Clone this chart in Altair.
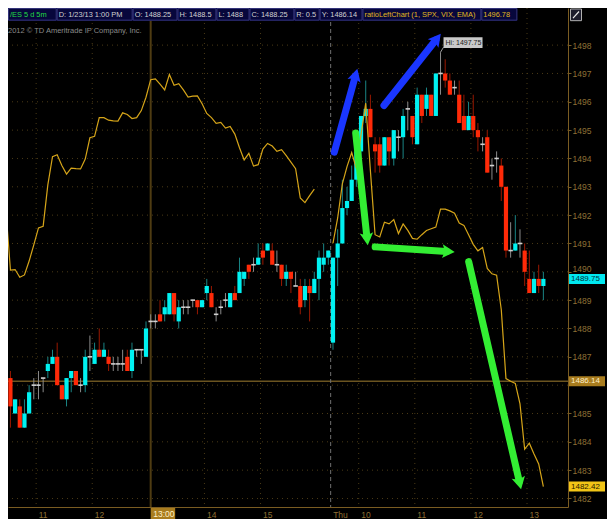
import math
import altair as alt
import pandas as pd

# ---------------- data ----------------
# 5-minute /ES bars, index 0 = 10:30 Wed, index 69 = 9:30 Thu
bar_open = [
    1486.25, 1485.0, 1485.25, 1484.5, 1485.0, 1486.0, 1486.0, 1486.25, 1486.5, 1486.75,
    1487.0, 1486.0, 1485.5, 1486.25, 1486.5, 1486.0, 1486.0, 1487.0, 1486.75, 1487.25,
    1487.0, 1487.0, 1486.75, 1486.75, 1486.75, 1487.0, 1486.5, 1487.25, 1487.25, 1487.0,
    1488.25, 1488.25, 1488.5, 1488.5, 1488.5, 1489.25, 1488.25, 1488.75, 1488.75, 1489.0,
    1489.0, 1488.75, 1489.25, 1489.25, 1488.5, 1488.75, 1489.0, 1488.75, 1489.25, 1489.25,
    1489.75, 1490.25, 1490.25, 1490.25, 1490.75, 1490.75, 1490.75, 1490.25, 1490.25, 1489.75,
    1490.0, 1489.5, 1489.5, 1489.0, 1489.5, 1489.25, 1489.75, 1490.25, 1490.5, 1487.5,
    1490.5, 1491.0, 1492.25, 1492.5, 1493.25, 1494.25, 1495.5, 1495.75, 1494.5, 1494.5,
    1493.75, 1494.75, 1494.0, 1494.75, 1494.75, 1495.75, 1495.5, 1494.5, 1496.25, 1495.75,
    1496.25, 1495.5, 1497.0, 1497.0, 1496.75, 1496.5, 1496.25, 1495.5, 1495.0, 1495.5,
    1495.0, 1494.5, 1494.75, 1493.75, 1494.0, 1493.75, 1493.0, 1490.75, 1490.75, 1491.0,
    1490.75, 1489.75, 1489.25, 1489.75, 1489.5,
]
bar_high = [
    1486.5, 1485.5, 1485.5, 1485.5, 1486.0, 1486.25, 1486.5, 1486.25, 1487.0, 1487.25,
    1487.5, 1486.0, 1486.25, 1486.5, 1486.5, 1486.25, 1487.25, 1487.75, 1487.5, 1488.0,
    1487.5, 1487.25, 1487.0, 1487.0, 1487.25, 1487.25, 1487.5, 1487.25, 1487.25, 1488.25,
    1488.5, 1488.5, 1489.0, 1489.0, 1489.25, 1489.25, 1489.0, 1489.0, 1489.0, 1489.0,
    1489.0, 1489.0, 1489.75, 1489.5, 1488.75, 1489.0, 1489.25, 1489.25, 1489.5, 1490.5,
    1490.0, 1490.25, 1490.5, 1491.0, 1491.0, 1491.0, 1491.0, 1490.75, 1490.25, 1490.25,
    1490.0, 1490.0, 1489.75, 1489.75, 1489.75, 1490.0, 1490.75, 1491.0, 1490.75, 1490.5,
    1491.5, 1493.25, 1493.0, 1493.75, 1494.25, 1495.5, 1496.75, 1496.25, 1494.75, 1494.75,
    1494.75, 1494.75, 1495.0, 1495.0, 1495.75, 1496.0, 1495.5, 1496.5, 1496.25, 1496.5,
    1496.25, 1497.0, 1497.75, 1497.5, 1497.0, 1496.75, 1496.75, 1496.25, 1496.0, 1496.25,
    1495.25, 1494.75, 1495.0, 1494.0, 1494.25, 1494.0, 1493.0, 1491.75, 1492.0, 1491.5,
    1491.0, 1490.75, 1490.0, 1490.25, 1490.0,
]
bar_low = [
    1484.5, 1485.0, 1484.5, 1484.5, 1485.0, 1485.5, 1485.5, 1485.75, 1486.25, 1486.75,
    1486.0, 1485.5, 1485.25, 1485.75, 1486.0, 1485.75, 1485.75, 1486.5, 1486.75, 1487.0,
    1487.0, 1486.5, 1486.5, 1486.5, 1486.5, 1486.5, 1486.25, 1487.0, 1486.75, 1487.0,
    1488.0, 1488.0, 1488.25, 1488.25, 1488.5, 1488.25, 1488.0, 1488.5, 1488.5, 1488.75,
    1488.5, 1488.75, 1489.0, 1488.75, 1488.25, 1488.5, 1488.75, 1488.75, 1489.0, 1489.25,
    1489.5, 1489.75, 1490.0, 1490.25, 1490.25, 1490.75, 1490.25, 1490.0, 1489.5, 1489.5,
    1489.25, 1489.5, 1488.5, 1488.75, 1488.25, 1489.25, 1489.0, 1490.0, 1490.25, 1487.25,
    1489.5, 1491.0, 1492.0, 1492.5, 1493.0, 1494.0, 1495.25, 1494.75, 1493.5, 1493.5,
    1493.75, 1493.75, 1493.75, 1494.25, 1494.0, 1495.0, 1494.5, 1494.5, 1495.25, 1495.5,
    1495.5, 1495.5, 1496.25, 1496.5, 1496.25, 1496.25, 1495.25, 1495.0, 1495.0, 1494.75,
    1494.25, 1494.25, 1493.5, 1493.25, 1493.5, 1492.5, 1490.5, 1490.5, 1490.75, 1490.5,
    1489.5, 1489.25, 1489.25, 1489.25, 1489.0,
]
bar_close = [
    1485.25, 1485.5, 1484.5, 1485.0, 1485.75, 1486.0, 1486.0, 1486.25, 1486.75, 1487.0,
    1486.0, 1485.5, 1486.25, 1486.5, 1486.0, 1486.0, 1487.0, 1487.0, 1487.25, 1487.0,
    1487.25, 1486.75, 1486.75, 1486.75, 1486.75, 1486.5, 1487.25, 1487.25, 1487.25, 1488.0,
    1488.25, 1488.25, 1488.25, 1488.75, 1489.25, 1488.5, 1488.75, 1488.75, 1488.75, 1489.0,
    1488.75, 1489.0, 1489.5, 1488.75, 1488.5, 1488.75, 1489.0, 1489.25, 1489.0, 1490.0,
    1490.0, 1490.0, 1490.25, 1490.5, 1490.5, 1491.0, 1490.25, 1490.25, 1489.75, 1490.0,
    1489.75, 1489.5, 1488.75, 1489.5, 1489.25, 1489.75, 1490.5, 1490.5, 1490.75, 1490.5,
    1491.0, 1492.25, 1492.5, 1493.25, 1494.25, 1495.5, 1495.75, 1494.75, 1494.25, 1493.75,
    1494.75, 1494.25, 1495.0, 1494.75, 1495.5, 1495.75, 1494.75, 1496.25, 1495.5, 1496.25,
    1495.5, 1497.0, 1497.0, 1496.75, 1496.25, 1496.5, 1495.25, 1495.0, 1495.5, 1495.0,
    1494.75, 1494.5, 1493.5, 1493.75, 1494.0, 1493.0, 1490.75, 1490.75, 1491.0, 1491.0,
    1490.0, 1489.25, 1489.75, 1489.5, 1489.75,
]

# ratioLeftChart (1, SPX, VIX, EMA) study, in price units
ratio_wed_start = -1
ratio_wed = [
    1492.25, 1490.06, 1490.08, 1489.81, 1489.89, 1490.38, 1490.95, 1491.55, 1491.61, 1493.07,
    1494.06, 1494.13, 1493.75, 1493.45, 1493.66, 1493.64, 1493.63, 1493.98, 1494.73, 1494.78,
    1495.44, 1495.44, 1495.35, 1495.33, 1495.32, 1495.61, 1495.55, 1495.41, 1495.44, 1495.69,
    1496.16, 1496.78, 1496.81, 1496.62, 1496.42, 1496.96, 1496.58, 1496.64, 1496.42, 1496.17,
    1496.20, 1496.21, 1495.93, 1495.59, 1495.44, 1495.24, 1495.27, 1495.07, 1495.13, 1494.86,
    1494.38, 1493.95, 1494.18, 1493.73, 1493.78, 1494.33, 1494.53, 1494.44, 1494.25, 1494.31,
    1494.10, 1493.87, 1493.64, 1492.61, 1492.44, 1492.69, 1492.92,
]
ratio_thu_start = 69
ratio_thu = [
    1491.01, 1491.90, 1493.10, 1493.71, 1494.21, 1493.64, 1494.84, 1495.95, 1493.57, 1491.31,
    1491.23, 1491.75, 1491.69, 1491.84, 1491.35, 1491.69, 1491.46, 1491.18, 1491.15, 1491.31,
    1491.46, 1491.52, 1491.58, 1492.21, 1492.21, 1492.15, 1492.07, 1491.72, 1491.64, 1491.31,
    1490.97, 1490.74, 1490.86, 1490.12, 1489.93, 1489.88, 1488.66, 1486.23, 1486.14, 1486.06,
    1485.34, 1483.74, 1483.95, 1483.57, 1483.22, 1482.42,
]

# time axis
tick_pos = [5.5, 17.5, 41.5, 53.5, 68.5, 74.5, 86.5, 98.5, 110.5]
tick_labels = ["11", "12", "14", "15", "Thu", "10", "11", "12", "13"]
session_break = 68.5
cursor_bar = 30
cursor_label = "13:00"
price_ticks = list(range(1482, 1499))
prev_close = 1486.14

# hand-drawn annotation arrows (bar index, price)
arrow_kind = ["blue", "blue", "green", "green", "green"]
arrow_x0 = [69.27, 79.90, 73.85, 78.02, 98.02]
arrow_y0 = [1494.22, 1495.87, 1494.90, 1490.88, 1490.36]
arrow_x1 = [73.75, 91.00, 76.25, 93.33, 108.85]
arrow_y1 = [1496.89, 1498.18, 1491.22, 1490.72, 1482.60]

header_texts = ["/ES 5 d 5m", "D: 1/23/13 1:00 PM", "O: 1488.25", "H: 1488.5", "L: 1488",
                "C: 1488.25", "R: 0.5", "Y: 1486.14", "ratioLeftChart (1, SPX, VIX, EMA)", "1496.78"]
copyright_text = "2012 \u00a9 TD Ameritrade IP Company, Inc."

# ---------------- layout / style ----------------
W, H = 560, 499
PAD_R, PAD_B = 39, 12
S = W / 575.0
X_DOMAIN = [-0.52, 119.27]
Y_DOMAIN = [1481.70, 1499.31]
FONT = "Liberation Sans"

BG = "#000000"
GRID = "#4a3a16"
AXIS = "#7a5c22"
LABEL = "#8f7035"
UP_BODY, UP_WICK = "#00F2F2", "#1a8585"
DN_BODY, DN_WICK = "#FF2A08", "#9a1800"
FLAT_BODY, FLAT_WICK = "#d0d0d0", "#8a8a8a"
RATIO = "#D6A519"
ARROW_COL = {"blue": "#1a36ff", "green": "#33ee33"}

xs = alt.Scale(domain=X_DOMAIN, nice=False, zero=False)
ys = alt.Scale(domain=Y_DOMAIN, nice=False, zero=False)
label_map = "{" + ",".join(f"'{p}':'{t}'" for p, t in zip(tick_pos, tick_labels)) + "}"
x_axis = alt.Axis(orient="bottom", values=tick_pos, labelExpr=f"{label_map}[datum.value]",
                  title=None, grid=False, ticks=False, labelAlign="left", labelOffset=2,
                  labelPadding=3, labelOverlap=False, labelFlush=False,
                  domainColor=AXIS, labelColor=LABEL, labelFont=FONT, labelFontSize=8.5)
# the price label right under the previous-close badge is covered in the original;
# the one just above the last-price badge is nudged up a little
hidden_label = round(prev_close)
nudged_label = math.ceil(bar_close[-1])
y_axis = alt.Axis(orient="right", values=price_ticks, format="d", title=None, grid=False,
                  labelExpr=f"datum.value == {hidden_label} ? '' : datum.label",
                  labelOffset={"condition": {"test": f"datum.value == {nudged_label}",
                                             "value": -3}, "value": 0},
                  tickSize=3, tickColor=AXIS, labelPadding=1, labelOverlap=False,
                  labelFlush=False, domainColor=AXIS, labelColor=LABEL, labelFont=FONT,
                  labelFontSize=8.5)


def X(f):
    return alt.X(f"{f}:Q", scale=xs, axis=x_axis)


def Y(f):
    return alt.Y(f"{f}:Q", scale=ys, axis=y_axis)


n = len(bar_open)
candles = pd.DataFrame({"idx": list(range(n)), "o": bar_open, "h": bar_high,
                        "l": bar_low, "c": bar_close})
candles["kind"] = ["up" if c > o else ("down" if c < o else "flat")
                   for o, c in zip(bar_open, bar_close)]

ratio = pd.DataFrame({
    "idx": list(range(ratio_wed_start, ratio_wed_start + len(ratio_wed)))
    + list(range(ratio_thu_start, ratio_thu_start + len(ratio_thu))),
    "val": ratio_wed + ratio_thu,
    "sess": ["wed"] * len(ratio_wed) + ["thu"] * len(ratio_thu),
})

sx = W / (X_DOMAIN[1] - X_DOMAIN[0])
sy = H / (Y_DOMAIN[1] - Y_DOMAIN[0])
arrows = pd.DataFrame({"kind": arrow_kind, "x0": arrow_x0, "y0": arrow_y0,
                       "x1": arrow_x1, "y1": arrow_y1})
arrows["angle"] = [math.degrees(math.atan2((b - a) * sx, (d - c) * sy)) % 360
                   for a, b, c, d in zip(arrow_x0, arrow_x1, arrow_y0, arrow_y1)]

one = pd.DataFrame({"k": [0]})
layers = []

# grid
vg = pd.DataFrame({"pos": [p for p in tick_pos if p != session_break]})
layers.append(alt.Chart(vg).mark_rule(color=GRID, strokeDash=[1, 4], strokeWidth=1)
              .encode(x=X("pos")))
hg = pd.DataFrame({"p": price_ticks})
layers.append(alt.Chart(hg).mark_rule(color=GRID, strokeDash=[1, 4], strokeWidth=1)
              .encode(y=Y("p")))
layers.append(alt.Chart(pd.DataFrame({"p": [prev_close]}))
              .mark_rule(color="#6b5420", strokeWidth=1.5).encode(y=Y("p")))
layers.append(alt.Chart(pd.DataFrame({"pos": [cursor_bar]}))
              .mark_rule(color="#4f3c12", strokeWidth=2).encode(x=X("pos")))
layers.append(alt.Chart(pd.DataFrame({"pos": [session_break]}))
              .mark_rule(color="#707070", strokeDash=[4, 3], strokeWidth=1).encode(x=X("pos")))

# candles
for kind, wc in [("up", UP_WICK), ("down", DN_WICK), ("flat", FLAT_WICK)]:
    layers.append(alt.Chart(candles).transform_filter(f"datum.kind == '{kind}'")
                  .mark_rule(color=wc, strokeWidth=1).encode(x=X("idx"), y=Y("l"), y2="h"))
for kind, bc in [("up", UP_BODY), ("down", DN_BODY)]:
    layers.append(alt.Chart(candles).transform_filter(f"datum.kind == '{kind}'")
                  .mark_rule(color=bc, strokeWidth=4.2, strokeCap="butt")
                  .encode(x=X("idx"), y=Y("o"), y2="c"))
layers.append(alt.Chart(candles).transform_filter("datum.kind == 'flat'")
              .mark_point(shape="M-1,0H1", filled=False, size=20, stroke=FLAT_BODY,
                          strokeWidth=1.6, opacity=1)
              .encode(x=X("idx"), y=Y("o")))

# study line
layers.append(alt.Chart(ratio).mark_line(color=RATIO, strokeWidth=1.2, clip=True)
              .encode(x=X("idx"), y=Y("val"), detail="sess:N"))

# arrows
HEAD = "M0,-1L0.85,0.55L0,0.22L-0.85,0.55Z"
for kind in ["blue", "green"]:
    col = ARROW_COL[kind]
    layers.append(alt.Chart(arrows).transform_filter(f"datum.kind == '{kind}'")
                  .mark_rule(color=col, strokeWidth=7, strokeCap="round")
                  .encode(x=X("x0"), y=Y("y0"), x2="x1", y2="y1"))
    layers.append(alt.Chart(arrows).transform_filter(f"datum.kind == '{kind}'")
                  .mark_point(shape=HEAD, filled=True, size=256, color=col, opacity=1,
                              strokeWidth=0)
                  .encode(x=X("x1"), y=Y("y1"), angle=alt.Angle("angle:Q", scale=None)))

# session high label
hi_idx = max(range(n), key=lambda i: bar_high[i])
hi = pd.DataFrame({"idx": [hi_idx], "p": [bar_high[hi_idx]]})
layers.append(alt.Chart(hi).mark_point(shape="M0,0L0.3,-0.5", filled=False, size=400,
                                       stroke="#a0a0a0", strokeWidth=1, opacity=1)
              .encode(x=X("idx"), y=Y("p")))
layers.append(alt.Chart(hi).mark_point(shape="M0.3,-1.5H4.2V-0.42H0.3Z", filled=True, size=400,
                                       color="#c9c9c9", opacity=1)
              .encode(x=X("idx"), y=Y("p")))
layers.append(alt.Chart(hi).mark_text(align="left", baseline="middle", dx=5, dy=-9.6,
                                      fontSize=7, font=FONT, color="#1a1a1a")
              .encode(x=X("idx"), y=Y("p"), text=alt.value(f"Hi: {bar_high[hi_idx]:.2f}")))

# right-axis value badges
BADGE = "M0,-0.5H3.6V0.5H0Z"
for val, fill, tcol in [(bar_close[-1], "#00E8F0", "#00303a"),
                        (prev_close, "#A87C1E", "#FFF0C8"),
                        (ratio_thu[-1], "#F2C517", "#2a1a00")]:
    d = pd.DataFrame({"p": [val]})
    layers.append(alt.Chart(d).mark_point(shape=BADGE, filled=True, size=400, color=fill,
                                          opacity=1)
                  .encode(x=alt.value(W + 1), y=Y("p")))
    layers.append(alt.Chart(d).mark_text(align="left", baseline="middle", fontSize=8,
                                         font=FONT, color=tcol)
                  .encode(x=alt.value(W + 3), y=Y("p"), text=alt.value(f"{val:.2f}")))

# cursor time badge
cb = pd.DataFrame({"pos": [cursor_bar]})
layers.append(alt.Chart(cb).mark_point(shape="M0,-0.55H2.45V0.55H0Z", filled=True, size=400,
                                       color="#A87C1E", opacity=1)
              .encode(x=X("pos"), y=alt.value(H + 6.5)))
layers.append(alt.Chart(cb).mark_text(align="left", baseline="middle", dx=2.5, fontSize=8.5,
                                      font=FONT, color="#FFF0C8")
              .encode(x=X("pos"), y=alt.value(H + 6.5), text=alt.value(cursor_label)))


def rect_at(x0, x1, y0, y1, **kw):
    return alt.Chart(one).mark_rect(**kw).encode(
        x=alt.value(x0), x2=alt.value(x1), y=alt.value(y0), y2=alt.value(y1))


def text_at(px, py, s, color, size):
    return alt.Chart(one).mark_text(align="left", baseline="middle", fontSize=size,
                                    font=FONT, color=color).encode(
        x=alt.value(px), y=alt.value(py), text=alt.value(s))


# header bar
edges = [e * S for e in [0, 50, 128, 174, 214, 248, 294, 320, 364, 486, 523]]
HB = 13 * S
hcols = ["#22dd44"] + ["#d2d2d2"] * 7 + ["#e0b820", "#e0b820"]
layers.append(rect_at(0, edges[-1], 0, HB, fill="#07073c"))
for i, t in enumerate(header_texts):
    layers.append(rect_at(edges[i] + 0.5, edges[i + 1] - 0.5, 0.5, HB - 0.5,
                          fill="#07073c", stroke="#35357a", strokeWidth=1))
    layers.append(text_at(edges[i] + 2, HB / 2 + 0.5, t, hcols[i], 7.4))
layers.append(text_at(0, 24 * S, copyright_text, "#8a8a8a", 7.5))

# small icon top right
layers.append(rect_at(W + 2.5, W + 13.5, 1, HB, fill="#1c1c2c", stroke="#b0b0b0",
                      strokeWidth=1))
layers.append(alt.Chart(one).mark_rule(color="#e8e8e8", strokeWidth=1.2).encode(
    x=alt.value(W + 5), x2=alt.value(W + 11), y=alt.value(HB - 2.5), y2=alt.value(3.5)))

chart = (
    alt.layer(*layers)
    .properties(width=W, height=H,
                padding={"left": 0, "top": 0, "right": PAD_R, "bottom": PAD_B},
                autosize=alt.AutoSizeParams(type="none"), background=BG)
    .configure_view(stroke=None, fill=BG)
)

chart.save("out.html", embed_options={"renderer": "svg", "actions": False})
